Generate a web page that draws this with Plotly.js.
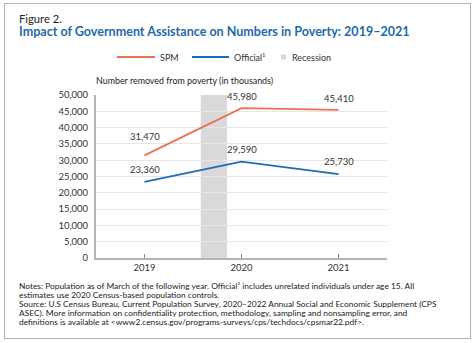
<!DOCTYPE html>
<html><head><meta charset="utf-8">
<script src="https://cdn.plot.ly/plotly-3.0.1.min.js"></script>
<style>html,body{margin:0;padding:0;background:#fff;}#wrap{position:relative;width:474px;height:343px;}#frame{position:absolute;left:4px;top:3px;width:465px;height:334px;border:1.5px solid #a9b4c6;pointer-events:none;}</style>
</head><body><div id="wrap"><div id="chart" style="width:474px;height:343px;"></div><div id="frame"></div></div>
<script>
const years = [2019, 2020, 2021];
const spm = [31470, 45980, 45410];
const official = [23360, 29590, 25730];
const recessionStart = 2019.58;
const recessionEnd = 2019.85;
const yTicks = [0, 5000, 10000, 15000, 20000, 25000, 30000, 35000, 40000, 45000, 50000];

const L = 96, R = 387, T = 95, B = 258;
const px = X => (X - L) / (R - L);
const py = Y => (B - Y) / (B - T);
const FONT = 'Lato, "Open Sans", sans-serif';
const fmt = v => v.toLocaleString('en-US');

const traces = [
  {x: years, y: spm, mode: 'lines', line: {color: '#e8734f', width: 1.8}, name: 'SPM', showlegend: false, hoverinfo: 'skip'},
  {x: years, y: official, mode: 'lines', line: {color: '#1d6db5', width: 1.8}, name: 'Official', showlegend: false, hoverinfo: 'skip'}
];

const ann = [];
const spmShift = [11, 4, 4];
spm.forEach((v, i) => ann.push({x: years[i], y: v, xref: 'x', yref: 'y', text: fmt(v), showarrow: false, yanchor: 'bottom', yshift: spmShift[i], font: {size: 9.5, color: '#333', family: FONT}}));
official.forEach((v, i) => ann.push({x: years[i], y: v, xref: 'x', yref: 'y', text: fmt(v), showarrow: false, yanchor: 'bottom', yshift: 5, font: {size: 9.5, color: '#333', family: FONT}}));

function txt(X, Y, text, size, color, extra) {
  ann.push(Object.assign({x: px(X), y: py(Y), xref: 'paper', yref: 'paper', text: text, showarrow: false, xanchor: 'left', yanchor: 'middle', font: {size: size, color: color, family: FONT}}, extra || {}));
}
txt(17, 18.5, 'Figure 2.', 11.2, '#222');
txt(17, 31.5, '<b>Impact of Government Assistance on Numbers in Poverty: 2019–2021</b>', 12.55, '#1d6aad');
txt(158, 57, 'SPM', 9, '#333');
txt(232, 57, 'Official¹', 9, '#333');
txt(290, 57, 'Recession', 9, '#333');
txt(94, 80.5, 'Number removed from poverty (in thousands)', 8.9, '#222');
const notes = [
  'Notes: Population as of March of the following year. Official¹ includes unrelated individuals under age 15. All',
  'estimates use 2020 Census-based population controls.',
  'Source: U.S Census Bureau, Current Population Survey, 2020–2022 Annual Social and Economic Supplement (CPS',
  'ASEC). More information on confidentiality protection, methodology, sampling and nonsampling error, and',
  'definitions is available at &lt;www2.census.gov/programs-surveys/cps/techdocs/cpsmar22.pdf&gt;.'
];
const noteY = [286.2, 295.2, 304.2, 312.9, 321.7];
notes.forEach((t, i) => txt(17, noteY[i], t, 8.4, '#222'));

const shapes = [
  {type: 'rect', xref: 'x', yref: 'y', x0: recessionStart, x1: recessionEnd, y0: 0, y1: 50000, fillcolor: '#d9d9db', line: {width: 0}, layer: 'below'},
  {type: 'line', xref: 'paper', yref: 'paper', x0: px(117), x1: px(155), y0: py(57), y1: py(57), line: {color: '#e8734f', width: 1.8}},
  {type: 'line', xref: 'paper', yref: 'paper', x0: px(192), x1: px(229), y0: py(57), y1: py(57), line: {color: '#1d6db5', width: 1.8}},
  {type: 'rect', xref: 'paper', yref: 'paper', x0: px(281), x1: px(286), y0: py(54.5), y1: py(59.5), fillcolor: '#d9d9db', line: {width: 0}}
];

const layout = {
  width: 474, height: 343,
  margin: {l: L, r: 474 - R, t: T, b: 343 - B, pad: 0},
  paper_bgcolor: '#fff', plot_bgcolor: '#fff',
  showlegend: false,
  font: {family: FONT, color: '#333', size: 9.5},
  xaxis: {range: [2018.5, 2021.5], tickvals: years, ticktext: years.map(String), showgrid: false, zeroline: false,
          showline: true, linecolor: '#b5b5b5', linewidth: 2, ticks: 'inside', ticklen: 4, tickcolor: '#888', tickwidth: 1,
          tickfont: {size: 9.5, color: '#333', family: FONT}, fixedrange: true},
  yaxis: {range: [0, 50000], tickvals: yTicks, ticktext: yTicks.map(fmt), showgrid: true, gridcolor: '#e6e6e6', gridwidth: 1,
          zeroline: false, showline: true, linecolor: '#b5b5b5', linewidth: 2, ticks: '', ticklabelstandoff: 4,
          tickfont: {size: 9.5, color: '#333', family: FONT}, fixedrange: true},
  annotations: ann,
  shapes: shapes
};
Plotly.newPlot('chart', traces, layout, {displayModeBar: false, staticPlot: true});
</script></body></html>
